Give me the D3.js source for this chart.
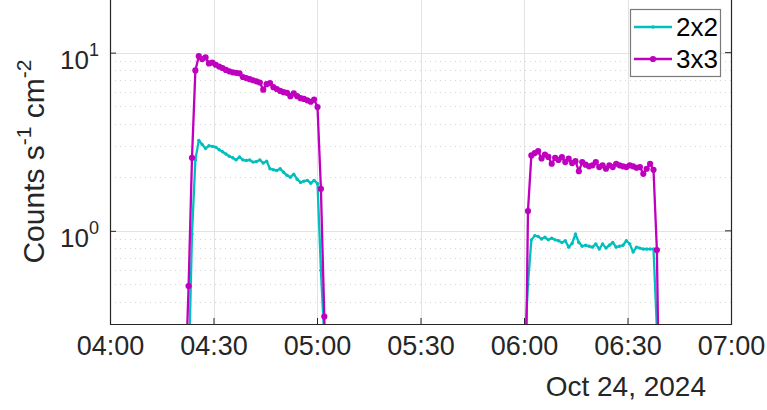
<!DOCTYPE html>
<html>
<head>
<meta charset="utf-8">
<script src="https://cdn.jsdelivr.net/npm/d3@7"></script>
<style>
  body { margin: 0; background: white; }
  svg { display: block; font-family: "Liberation Sans", Arial, sans-serif; }
</style>
</head>
<body>
<svg id="chart"></svg>
<script>
// sample cadence (seconds) and segment start times
const CADENCE = 59;
const seg1Start = new Date(2024, 9, 24, 4, 21, 48);
const seg2Start = new Date(2024, 9, 24, 6, 0, 10);

// 2x2 and 3x3 count rates, one value per sample
const seg1_2x2 = [0.02, 0.15, 0.96, 2.5, 3.22, 3.05, 2.9, 3.0, 2.98, 2.95, 2.85, 2.78, 2.7, 2.62, 2.57, 2.5, 2.6, 2.5,
    2.48, 2.5, 2.43, 2.45, 2.5, 2.4, 2.46, 2.23, 2.2, 2.18, 2.23, 2.13, 2.05, 2.0, 2.08, 1.95, 1.87, 1.9, 1.92, 1.85,
    1.92, 1.84, 0.6, 0.25, 0.02];
const seg1_3x3 = [0.13, 0.49, 2.57, 7.95, 9.55, 9.2, 9.4, 8.7, 8.8, 8.55, 8.35, 8.2, 8.0, 7.85, 7.75, 7.7, 7.65, 7.3,
    7.2, 7.1, 7.0, 6.9, 6.8, 6.2, 6.65, 6.75, 6.4, 6.25, 6.1, 6.0, 5.95, 5.7, 5.9, 5.7, 5.55, 5.5, 5.4, 5.3, 5.45,
    4.95, 1.72, 0.33, 0.02];
const seg2_2x2 = [0.21, 0.5, 0.89, 0.94, 0.93, 0.9, 0.92, 0.89, 0.91, 0.89, 0.88, 0.86, 0.88, 0.81, 0.85, 0.96, 0.86,
    0.82, 0.83, 0.82, 0.81, 0.845, 0.79, 0.845, 0.8, 0.83, 0.86, 0.81, 0.82, 0.83, 0.88, 0.845, 0.76, 0.81, 0.8,
    0.79, 0.79, 0.79, 0.79, 0.28, 0.02];
const seg2_3x3 = [0.04, 1.29, 2.65, 2.73, 2.8, 2.55, 2.68, 2.6, 2.38, 2.57, 2.5, 2.59, 2.43, 2.54, 2.4, 2.46, 2.16,
    2.43, 2.35, 2.3, 2.33, 2.43, 2.28, 2.33, 2.23, 2.33, 2.28, 2.38, 2.33, 2.3, 2.28, 2.33, 2.3, 2.26, 2.28, 2.09,
    2.23, 2.38, 2.2, 0.78, 0.04];

const xTicks = ["04:00", "04:30", "05:00", "05:30", "06:00", "06:30", "07:00"];
const yTicks = [1, 10];
const yMinor = [0.4, 0.5, 0.6, 0.7, 0.8, 0.9, 2, 3, 4, 5, 6, 7, 8, 9];
const dateLabel = "Oct 24, 2024";
const seriesNames = ["2x2", "3x3"];
const seriesColors = ["#00bfbf", "#bf00bf"];

//turn a segment into {t, v} points
function toPoints(start, values) {
    return values.map((v, i) => ({ t: new Date(start.getTime() + i * CADENCE * 1000), v: v }));
}

const series = [
    { name: seriesNames[0], color: seriesColors[0], r: 1.7, segs: [toPoints(seg1Start, seg1_2x2), toPoints(seg2Start, seg2_2x2)] },
    { name: seriesNames[1], color: seriesColors[1], r: 3.1, segs: [toPoints(seg1Start, seg1_3x3), toPoints(seg2Start, seg2_3x3)] }
];

const width = 767, height = 410;
const pLeft = 110, pRight = 731, pTop = -1, pBottom = 324;
const axisColor = "#262626";

const svg = d3.select("#chart").attr("width", width).attr("height", height);

const parseHM = s => { const [h, m] = s.split(":").map(Number); return new Date(2024, 9, 24, h, m); };
const tickDates = xTicks.map(parseHM);

const x = d3.scaleTime()
    .domain([tickDates[0], tickDates[tickDates.length - 1]])
    .range([pLeft, pRight]);

const y = d3.scaleLog()
    .domain([0.3, 20])
    .range([pBottom, pTop]);

//minor grid (dotted)
svg.append("g")
    .selectAll("line")
    .data(yMinor)
    .join("line")
    .attr("x1", pLeft).attr("x2", pRight)
    .attr("y1", d => Math.round(y(d)) + 0.5).attr("y2", d => Math.round(y(d)) + 0.5)
    .attr("stroke", "#d4d4d4")
    .attr("stroke-width", 1)
    .attr("stroke-dasharray", "1,4");

//major grid
svg.append("g")
    .selectAll("line")
    .data(yTicks)
    .join("line")
    .attr("x1", pLeft).attr("x2", pRight)
    .attr("y1", d => Math.round(y(d)) + 0.5).attr("y2", d => Math.round(y(d)) + 0.5)
    .attr("stroke", "#e3e3e3")
    .attr("stroke-width", 1);

svg.append("g")
    .selectAll("line")
    .data(tickDates.slice(1, -1))
    .join("line")
    .attr("x1", d => Math.round(x(d)) + 0.5).attr("x2", d => Math.round(x(d)) + 0.5)
    .attr("y1", pTop).attr("y2", pBottom)
    .attr("stroke", "#e3e3e3")
    .attr("stroke-width", 1);

//data, clipped to the axes box
svg.append("clipPath").attr("id", "plot-clip")
    .append("rect")
    .attr("x", pLeft).attr("y", pTop)
    .attr("width", pRight - pLeft).attr("height", pBottom - pTop);

const plot = svg.append("g").attr("clip-path", "url(#plot-clip)");

const line = d3.line()
    .x(d => x(d.t))
    .y(d => y(Math.max(d.v, 1e-3)));

series.forEach(s => {
    s.segs.forEach(seg => {
        plot.append("path")
            .datum(seg)
            .attr("fill", "none")
            .attr("stroke", s.color)
            .attr("stroke-width", 2.3)
            .attr("stroke-linejoin", "round")
            .attr("d", line);
        plot.append("g")
            .selectAll("circle")
            .data(seg)
            .join("circle")
            .attr("cx", d => x(d.t))
            .attr("cy", d => y(Math.max(d.v, 1e-3)))
            .attr("r", s.r)
            .attr("fill", s.color);
    });
});

//x axis
const xAxis = svg.append("g")
    .attr("transform", `translate(0,${pBottom})`)
    .call(d3.axisBottom(x)
        .tickValues(tickDates)
        .tickSize(-6)
        .tickPadding(12)
        .tickFormat(d3.timeFormat("%H:%M")));
xAxis.select(".domain").remove();
xAxis.selectAll(".tick line").attr("stroke", axisColor);
xAxis.selectAll(".tick text")
    .attr("fill", axisColor)
    .style("font-size", "27px")
    .attr("dy", "0.71em");

svg.append("text")
    .attr("x", 706)
    .attr("y", 396)
    .attr("text-anchor", "end")
    .attr("fill", axisColor)
    .style("font-size", "28px")
    .text(dateLabel);

//y axis (left + right ticks)
const yAxis = svg.append("g")
    .attr("transform", `translate(${pLeft},0)`)
    .call(d3.axisLeft(y)
        .tickValues(yTicks)
        .tickSize(-6)
        .tickPadding(11));
yAxis.select(".domain").remove();
yAxis.selectAll(".tick line").attr("stroke", axisColor);
yAxis.selectAll(".tick text")
    .attr("fill", axisColor)
    .attr("dy", "0.6em")
    .style("font-size", "26px")
    .each(function (d) {
        const t = d3.select(this);
        t.text(null);
        t.append("tspan").text("10");
        t.append("tspan").attr("dy", -13).style("font-size", "18px").text(Math.round(Math.log10(d)));
    });

svg.append("g")
    .selectAll("line")
    .data(yTicks)
    .join("line")
    .attr("x1", pRight - 6).attr("x2", pRight)
    .attr("y1", d => y(d)).attr("y2", d => y(d))
    .attr("stroke", axisColor);

//axes box
svg.append("path")
    .attr("d", `M${pLeft + 0.5},${pTop}V${pBottom + 0.5}H${pRight + 0.5}V${pTop}`)
    .attr("fill", "none")
    .attr("stroke", axisColor)
    .attr("stroke-width", 1.2);

//y label
const ylab = svg.append("text")
    .attr("transform", `translate(44,${(pTop + pBottom) / 2}) rotate(-90)`)
    .attr("text-anchor", "middle")
    .attr("fill", axisColor)
    .style("font-size", "30px");
ylab.append("tspan").text("Counts s");
ylab.append("tspan").attr("dy", -13).style("font-size", "21px").text("-1");
ylab.append("tspan").attr("dy", 13).text(" cm");
ylab.append("tspan").attr("dy", -13).style("font-size", "21px").text("-2");

//legend
const legend = svg.append("g");
legend.append("rect")
    .attr("x", 630.5).attr("y", 9.5)
    .attr("width", 90).attr("height", 67)
    .attr("fill", "white")
    .attr("stroke", "#7a7a7a")
    .attr("stroke-width", 1.2);

series.forEach((s, i) => {
    const ly = 27 + i * 32;
    legend.append("line")
        .attr("x1", 634).attr("x2", 672)
        .attr("y1", ly).attr("y2", ly)
        .attr("stroke", s.color)
        .attr("stroke-width", 2.3);
    legend.append("circle")
        .attr("cx", 653).attr("cy", ly)
        .attr("r", s.r)
        .attr("fill", s.color);
    legend.append("text")
        .attr("x", 676).attr("y", ly)
        .attr("dy", "0.35em")
        .attr("fill", "black")
        .style("font-size", "26px")
        .text(s.name);
});
</script>
</body>
</html>
